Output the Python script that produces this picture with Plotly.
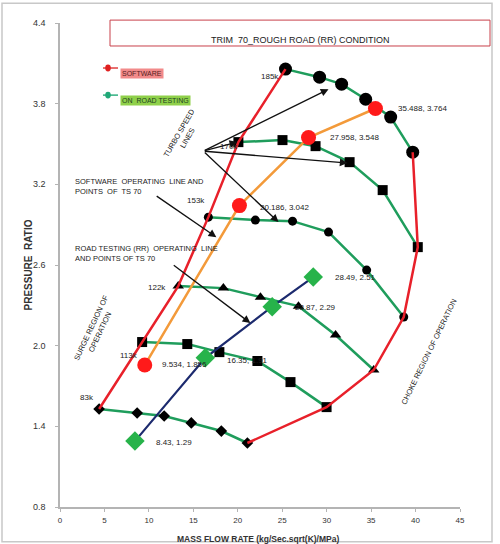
import plotly.graph_objects as go

# Turbo speed lines: corrected mass flow rate and pressure ratio along each line
speed_names = ["83k", "113k", "122k", "153k", "170k", "185k"]
mf_83k = [4.40, 8.68, 11.72, 14.77, 18.15, 21.08]
pr_83k = [1.529, 1.499, 1.477, 1.425, 1.365, 1.276]
mf_113k = [9.24, 14.32, 17.93, 22.21, 25.93, 29.99]
pr_113k = [2.027, 2.012, 1.952, 1.886, 1.729, 1.543]
mf_122k = [13.30, 18.38, 22.55, 26.83, 31.00, 35.29]
pr_122k = [2.443, 2.428, 2.361, 2.294, 2.079, 1.819]
mf_153k = [16.69, 21.98, 26.16, 30.21, 34.50, 38.67]
pr_153k = [2.956, 2.934, 2.926, 2.845, 2.562, 2.213]
mf_170k = [20.07, 25.03, 28.75, 32.58, 36.30, 40.25]
pr_170k = [3.514, 3.529, 3.484, 3.365, 3.157, 2.733]
mf_185k = [25.37, 29.20, 31.68, 34.39, 37.20, 39.68]
pr_185k = [4.057, 3.997, 3.945, 3.833, 3.700, 3.439]

# Operating points of TS 70
sw_mf = [9.534, 20.186, 27.958, 35.488]
sw_pr = [1.856, 3.042, 3.548, 3.764]
road_mf = [8.43, 16.35, 23.87, 28.49]
road_pr = [1.29, 1.91, 2.29, 2.51]

x_ticks = [0, 5, 10, 15, 20, 25, 30, 35, 40, 45]
y_ticks = [0.8, 1.4, 2.0, 2.6, 3.2, 3.8, 4.4]

FONT = "Arial, Liberation Sans, sans-serif"
GREEN = "#1f9d5c"
RED = "#e8202a"

speed_lines = [
    (mf_83k, pr_83k, "diamond", 9),
    (mf_113k, pr_113k, "square", 10),
    (mf_122k, pr_122k, "triangle-up", 10),
    (mf_153k, pr_153k, "circle", 9),
    (mf_170k, pr_170k, "square", 10),
    (mf_185k, pr_185k, "circle", 13),
]

fig = go.Figure()

for mf, pr, sym, size in speed_lines:
    fig.add_trace(go.Scatter(
        x=mf, y=pr, mode="lines+markers",
        line=dict(color=GREEN, width=2.5),
        marker=dict(symbol=sym, size=size, color="black"),
        showlegend=False, hoverinfo="skip"))

# Surge line through the first points, choke line through the last points
surge_x = [s[0][0] for s in speed_lines]
surge_y = [s[1][0] for s in speed_lines]
choke_x = [s[0][-1] for s in speed_lines]
choke_y = [s[1][-1] for s in speed_lines]
fig.add_trace(go.Scatter(x=surge_x, y=surge_y, mode="lines",
                         line=dict(color=RED, width=2.5), showlegend=False))
fig.add_trace(go.Scatter(x=choke_x, y=choke_y, mode="lines",
                         line=dict(color=RED, width=2.5), showlegend=False))

# Software operating line
fig.add_trace(go.Scatter(
    x=sw_mf, y=sw_pr, mode="lines+markers",
    line=dict(color="#f39a3a", width=2.5),
    marker=dict(symbol="circle", size=15, color="#ff1a1a"),
    showlegend=False))

# Road testing operating line
fig.add_trace(go.Scatter(
    x=road_mf, y=road_pr, mode="lines+markers",
    line=dict(color="#1c2a6e", width=2.2),
    marker=dict(symbol="diamond", size=15, color="#27b34a"),
    showlegend=False))

ann = []

def label(x, y, text, xanchor="left", size=8, angle=0, align="left"):
    ann.append(dict(x=x, y=y, xref="x", yref="y", text=text, showarrow=False,
                    xanchor=xanchor, yanchor="middle", textangle=angle, align=align,
                    font=dict(family=FONT, size=size, color="#222")))

# Speed labels
label(24.9, 4.00, "185k", "right")
label(20.3, 3.48, "170k", "right")
label(16.57, 3.083, "153k", "right")
label(12.18, 2.436, "122k", "right")
label(9.02, 1.93, "113k", "right")
label(4.06, 1.618, "83k", "right")

# Operating point value labels
for mf, pr, lx, ly in zip(sw_mf, sw_pr, [11.27, 22.32, 30.1, 37.77],
                          [1.863, 3.03, 3.551, 3.767]):
    label(lx, ly, f"{mf}, {pr}")
for mf, pr, lx, ly in zip(road_mf, road_pr, [10.6, 18.6, 26.16, 30.66],
                          [1.283, 1.893, 2.287, 2.51]):
    label(lx, ly, f"{mf}, {pr}")

# Explanatory notes
label(13.87, 3.566, "TURBO SPEED<br>LINES", "center", 7.5, -60, "center")
label(1.47, 3.187, "SOFTWARE  OPERATING  LINE AND<br>POINTS  OF  TS 70", "left", 7.5)
label(1.47, 2.689, "ROAD TESTING (RR)  OPERATING  LINE<br>AND POINTS OF TS 70", "left", 7.5)
label(3.95, 2.116, "SURGE REGION OF<br>OPERATION", "center", 7.5, -65, "center")
label(41.49, 1.96, "CHOKE REGION OF OPERATION", "center", 7.5, -64)

def arrow(x0, y0, x1, y1):
    ann.append(dict(x=x1, y=y1, ax=x0, ay=y0, xref="x", yref="y", axref="x", ayref="y",
                    text="", showarrow=True, arrowhead=2, arrowsize=1.2,
                    arrowwidth=1.3, arrowcolor="#111"))

for tx, ty in [(30.21, 3.908), (19.95, 3.514), (32.36, 3.358), (24.58, 2.919)]:
    arrow(16.12, 3.447, tx, ty)
arrow(10.71, 3.12, 17.59, 2.807)
arrow(12.63, 2.607, 21.42, 2.168)

# Title box text
ann.append(dict(x=0.6, y=0.979, xref="paper", yref="paper", showarrow=False,
                text="TRIM  70_ROUGH ROAD (RR) CONDITION",
                font=dict(family=FONT, size=9, color="#222")))

# Legend entries
ann.append(dict(x=0.15, y=0.907, xref="paper", yref="paper", showarrow=False,
                xanchor="left", text="SOFTWARE", bgcolor="#f28a8a", borderpad=1,
                font=dict(family=FONT, size=7, color="#552222")))
ann.append(dict(x=0.15, y=0.851, xref="paper", yref="paper", showarrow=False,
                xanchor="left", text="ON  ROAD TESTING", bgcolor="#8fd04a", borderpad=1,
                font=dict(family=FONT, size=7, color="#224422")))

# Axis titles
ann.append(dict(x=-0.1, y=0.5, xref="paper", yref="paper", showarrow=False,
                text="<b>PRESSURE  RATIO</b>", textangle=-90,
                font=dict(family=FONT, size=10, color="#333")))
ann.append(dict(x=0.495, y=-0.067, xref="paper", yref="paper", showarrow=False,
                yanchor="middle", borderpad=0,
                text="<b>MASS FLOW RATE (kg/Sec.sqrt(K)/MPa)</b>",
                font=dict(family=FONT, size=8.5, color="#333")))

shapes = [
    # outer frame
    dict(type="rect", xref="paper", yref="paper", x0=-0.145, x1=1.08, y0=-0.072, y1=1.041,
         line=dict(color="#c8c8c8", width=1.5)),
    # title box
    dict(type="rect", xref="paper", yref="paper", x0=0.125, x1=1.075, y0=0.9525, y1=1.006,
         line=dict(color="#c8404a", width=1)),
    # legend symbols
    dict(type="line", xref="paper", yref="paper", x0=0.1075, x1=0.145, y0=0.907, y1=0.907,
         line=dict(color="#e04040", width=1.5)),
    dict(type="circle", xref="paper", yref="paper", x0=0.113, x1=0.127, y0=0.9, y1=0.914,
         fillcolor="#e02020", line=dict(width=0)),
    dict(type="line", xref="paper", yref="paper", x0=0.1075, x1=0.145, y0=0.851, y1=0.851,
         line=dict(color="#30b080", width=1.5)),
    dict(type="circle", xref="paper", yref="paper", x0=0.113, x1=0.127, y0=0.844, y1=0.858,
         fillcolor="#20a878", line=dict(width=0)),
]

fig.update_layout(
    width=500, height=544,
    margin=dict(l=60, r=40, t=23, b=37),
    paper_bgcolor="white", plot_bgcolor="white",
    annotations=ann, shapes=shapes,
    font=dict(family=FONT, size=8, color="#333"),
    xaxis=dict(range=[0, 45], tickvals=x_ticks, ticktext=[str(v) for v in x_ticks],
               showgrid=False, zeroline=False, showline=True, linecolor="#b4b4b4",
               linewidth=1.5, ticks="outside", ticklen=3, tickcolor="#b4b4b4",
               ticklabelstandoff=2, tickfont=dict(size=8, color="#333")),
    yaxis=dict(range=[0.8, 4.4], tickvals=y_ticks, ticktext=[f"{v:.1f}" for v in y_ticks],
               showgrid=False, zeroline=False, showline=True, linecolor="#b4b4b4",
               linewidth=1.5, ticks="outside", ticklen=3, tickcolor="#b4b4b4",
               ticklabelstandoff=8, tickfont=dict(size=9, color="#333")),
)

fig.write_html("out.html")
